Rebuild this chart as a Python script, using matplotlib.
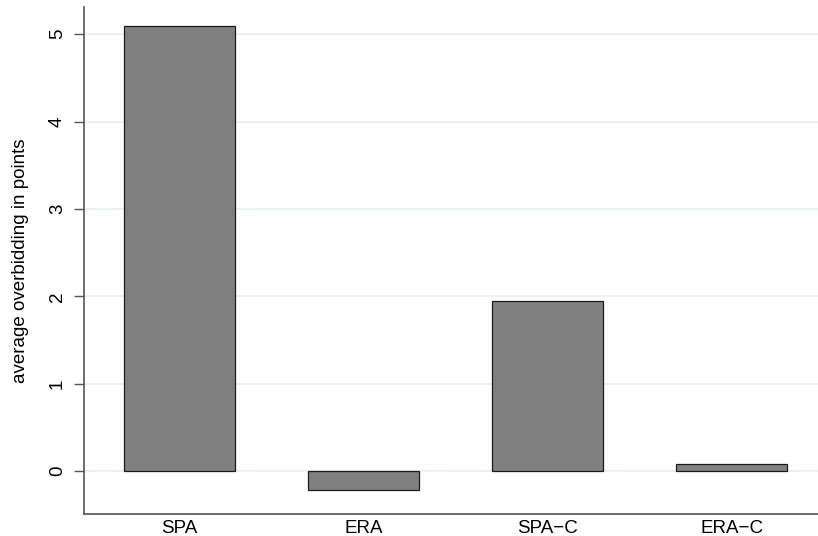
import matplotlib
matplotlib.use("Agg")
import matplotlib.pyplot as plt

categories = ["SPA", "ERA", "SPA\u2212C", "ERA\u2212C"]
values = [5.09, -0.22, 1.945, 0.08]
yticks = [0, 1, 2, 3, 4, 5]

plt.rcParams['font.family'] = ['Liberation Sans', 'DejaVu Sans']

fig = plt.figure(figsize=(8.18, 5.36), dpi=100)
ax = fig.add_axes([84/818, 1 - 514/536, (818 - 84)/818, (514 - 7)/536])

x = list(range(len(categories)))
ax.bar(x, values, width=0.6, color='#808080', edgecolor='#1a1a1a', linewidth=0.9, zorder=3)

ax.set_xlim(-0.52, 3.47)
ax.set_ylim(-0.49, 5.31)
ax.set_yticks(yticks)
ax.set_yticklabels([str(t) for t in yticks], rotation=90, va='center', fontsize=13.5)
ax.set_xticks(x)
ax.set_xticklabels(categories, fontsize=13.5)
ax.tick_params(axis='x', length=0, pad=4)
ax.tick_params(axis='y', length=7, width=1, color='#555555', pad=6)
ax.yaxis.grid(True, color='#e8eff2', linewidth=1.2, zorder=0)
ax.set_axisbelow(True)
for s in ['top', 'right']:
    ax.spines[s].set_visible(False)
for s in ['left', 'bottom']:
    ax.spines[s].set_color('#555555')
    ax.spines[s].set_linewidth(1.2)
ax.set_ylabel("average overbidding in points", fontsize=13.5, labelpad=14)

fig.savefig("out.png", dpi=100)
